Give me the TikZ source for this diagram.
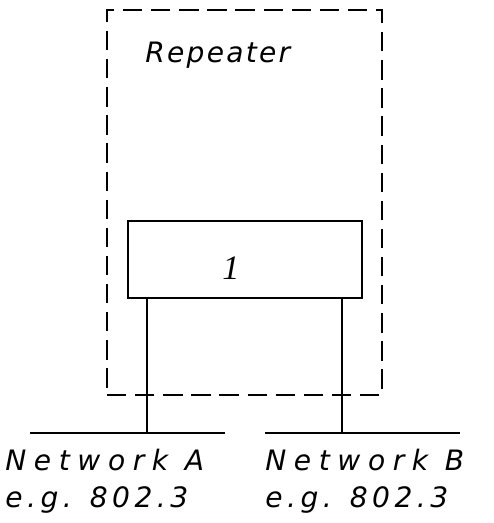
\documentclass[tikz,border=0pt]{standalone}
\usepackage{fontspec}
\newfontfamily\plotfont{DejaVu Sans}
\newfontfamily\numfont{Liberation Serif}

\tikzset{
  thinline/.style={line width=1pt},
  repbox/.style={draw,thinline,dash pattern=on 11pt off 5pt,minimum width=5.5cm,minimum height=7.7cm},
  cardbox/.style={draw,thinline,minimum width=4.68cm,minimum height=1.54cm},
  plotlabel/.style={anchor=base west,inner sep=0pt,
    font=\plotfont\itshape\fontsize{16}{19}\selectfont\addfontfeature{LetterSpace=#1}},
  plotlabel/.default=27
}

\begin{document}
\begin{tikzpicture}[x=0.02cm,y=-0.02cm]

      \useasboundingbox (0,0) rectangle (493,523);

      % repeater outline and the single port card
      \node[repbox] (rep) at (244.5,202.5) {};
      \node[cardbox] (card) at (245,259.5) {};
      \node (num) at (231,268.5) {\numfont\itshape\fontsize{19.5}{22}\selectfont 1};
      \node[plotlabel=8] (reptext) at (145,63) {Repeater};

      % the two LAN segments
      \coordinate (netAw) at (30,433);
      \coordinate (netAe) at (225,433);
      \coordinate (netBw) at (265,433);
      \coordinate (netBe) at (460,433);
      \coordinate (tapA) at (147,433);
      \coordinate (tapB) at (342,433);

      \begin{scope}[thinline]
        \draw (netAw) -- (netAe);
        \draw (netBw) -- (netBe);
        \draw (card.south -| tapA) -- (tapA);
        \draw (card.south -| tapB) -- (tapB);
      \end{scope}

      \node[plotlabel] (netA) at (5,470) {Network A};
      \node[plotlabel=16] (stdA) at (5,507) {e.g. 802.3};
      \node[plotlabel] (netB) at (265,470) {Network B};
      \node[plotlabel=16] (stdB) at (265,507) {e.g. 802.3};

    \end{tikzpicture}
\end{document}
